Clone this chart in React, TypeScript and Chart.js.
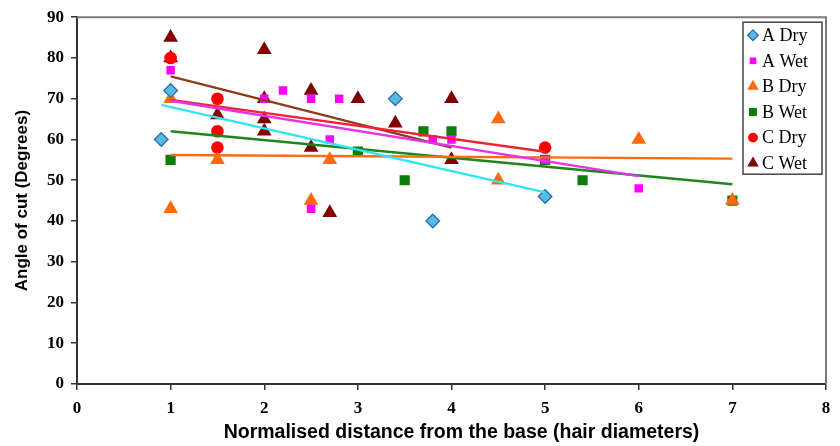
import React, { useEffect, useRef } from 'react';
import { Chart, registerables } from 'chart.js';
import { drawPoint } from 'chart.js/helpers';

Chart.register(...registerables);

// ---- data ----
const seriesNames = ['A Dry', 'A Wet', 'B Dry', 'B Wet', 'C Dry', 'C Wet'];

const aDryX = [0.9, 1, 3.4, 3.8, 5];
const aDryY = [60, 72, 70, 40, 46];

const aWetX = [1, 2, 2.2, 2.5, 2.8, 2.7, 3.8, 4, 5, 6, 2.5];
const aWetY = [77, 70, 72, 70, 70, 60, 60, 60, 55, 48, 43];

const bDryX = [1, 1, 1.5, 2.5, 2.7, 4.5, 4.5, 6, 7];
const bDryY = [70, 43, 55, 45, 55, 65, 50, 60, 45];

const bWetX = [1, 3, 3.5, 3.7, 4, 5, 5.4, 7];
const bWetY = [55, 57, 50, 62, 62, 55, 50, 45];

const cDryX = [1, 1.5, 1.5, 1.5, 5];
const cDryY = [80, 70, 62, 58, 58];

const cWetX = [1, 1, 1.5, 2, 2, 2, 2, 2.5, 2.5, 2.7, 3, 3.4, 4, 4];
const cWetY = [85, 80, 66, 82, 70, 65, 62, 72, 58, 42, 70, 64, 70, 55];

// trend line end points (start x, end x) and (start y, end y)
const aDryTrendX = [0.9, 5];
const aDryTrendY = [68.5, 47];
const aWetTrendX = [1, 6];
const aWetTrendY = [69.5, 51];
const bDryTrendX = [1, 7];
const bDryTrendY = [56.2, 55.3];
const bWetTrendX = [1, 7];
const bWetTrendY = [62, 49];
const cDryTrendX = [1, 5];
const cDryTrendY = [69.7, 57];
const cWetTrendX = [1, 4];
const cWetTrendY = [75.5, 58];

const xTicks = [0, 1, 2, 3, 4, 5, 6, 7, 8];
const yTicks = [0, 10, 20, 30, 40, 50, 60, 70, 80, 90];

const xTitle = 'Normalised distance from the base (hair diameters)';
const yTitle = 'Angle of cut (Degrees)';

// ---- styles ----
const markerStyles = [
  { pointStyle: 'rectRot', radius: 6.8, bg: '#56BBE6', border: '#2C6EA8', bw: 1.3 },
  { pointStyle: 'rect', radius: 6, bg: '#FF00FF', border: '#FF00FF', bw: 0 },
  { pointStyle: 'triangle', radius: 8.5, bg: '#FF6A10', border: '#FF6A10', bw: 0 },
  { pointStyle: 'rect', radius: 7.2, bg: '#0A7D0A', border: '#0A7D0A', bw: 0 },
  { pointStyle: 'circle', radius: 6.3, bg: '#FF0000', border: '#FF0000', bw: 0 },
  { pointStyle: 'triangle', radius: 8.5, bg: '#800000', border: '#800000', bw: 0 },
];
const trendColors = ['#2FE6F2', '#E633E6', '#FF6A10', '#1E861E', '#F2203A', '#8E3A1C'];

const zip = (xs: number[], ys: number[]) => xs.map((x, i) => ({ x, y: ys[i] }));

const scatterData = [
  zip(aDryX, aDryY),
  zip(aWetX, aWetY),
  zip(bDryX, bDryY),
  zip(bWetX, bWetY),
  zip(cDryX, cDryY),
  zip(cWetX, cWetY),
];
const trendData = [
  zip(aDryTrendX, aDryTrendY),
  zip(aWetTrendX, aWetTrendY),
  zip(bDryTrendX, bDryTrendY),
  zip(bWetTrendX, bWetTrendY),
  zip(cDryTrendX, cDryTrendY),
  zip(cWetTrendX, cWetTrendY),
];

const framePlugin = {
  id: 'frame',
  beforeDatasetsDraw(chart: any) {
    const { ctx, chartArea } = chart;
    const { left, top, right, bottom } = chartArea;
    ctx.save();
    ctx.strokeStyle = '#7A7A7A';
    ctx.lineWidth = 2;
    ctx.beginPath();
    ctx.moveTo(left, top);
    ctx.lineTo(right, top);
    ctx.lineTo(right, bottom);
    ctx.stroke();
    ctx.restore();
  },
};

const xTitlePlugin = {
  id: 'xTitle',
  afterDraw(chart: any) {
    const { ctx, chartArea } = chart;
    ctx.save();
    ctx.font = 'bold 19.5px "Liberation Sans", Arial, sans-serif';
    ctx.fillStyle = '#000';
    ctx.textAlign = 'center';
    ctx.textBaseline = 'middle';
    ctx.fillText(xTitle, (chartArea.left + chartArea.right) / 2 + 10, chart.height - 13);
    ctx.restore();
  },
};

const legendPlugin = {
  id: 'customLegend',
  afterDraw(chart: any) {
    const { ctx, chartArea } = chart;
    const w = 79;
    const h = 152;
    const x0 = chartArea.right - 83;
    const y0 = chartArea.top + 5;
    ctx.save();
    ctx.fillStyle = '#FFFFFF';
    ctx.fillRect(x0, y0, w, h);
    ctx.strokeStyle = '#444444';
    ctx.lineWidth = 1.5;
    ctx.strokeRect(x0, y0, w, h);
    ctx.font = '18px "Liberation Serif", "Times New Roman", serif';
    ctx.textBaseline = 'middle';
    ctx.textAlign = 'left';
    seriesNames.forEach((name, i) => {
      const cy = y0 + 13 + i * 25.6;
      const m = markerStyles[i];
      ctx.fillStyle = m.bg;
      ctx.strokeStyle = m.border;
      ctx.lineWidth = m.bw;
      drawPoint(ctx, { pointStyle: m.pointStyle, radius: m.radius * 0.78, borderWidth: m.bw, rotation: 0 }, x0 + 10, cy);
      ctx.fillStyle = '#000000';
      ctx.fillText(name, x0 + 19, cy + 1);
    });
    ctx.restore();
  },
};

export default function App() {
  const ref = useRef<HTMLCanvasElement | null>(null);

  useEffect(() => {
    if (!ref.current) return;
    const datasets: any[] = [];
    trendData.forEach((d, i) => {
      datasets.push({
        type: 'line',
        label: seriesNames[i] + ' trend',
        data: d,
        borderColor: trendColors[i],
        borderWidth: 2.4,
        pointRadius: 0,
        fill: false,
        order: 1,
      });
    });
    scatterData.forEach((d, i) => {
      const m = markerStyles[i];
      datasets.push({
        type: 'scatter',
        label: seriesNames[i],
        data: d,
        pointStyle: m.pointStyle,
        pointRadius: m.radius,
        pointBackgroundColor: m.bg,
        pointBorderColor: m.border,
        pointBorderWidth: m.bw,
        order: 2,
      });
    });

    const tickFont = { family: '"Liberation Serif", "Times New Roman", serif', weight: 'bold' as const, size: 17 };
    const titleFontFamily = '"Liberation Sans", Arial, sans-serif';

    const chart = new Chart(ref.current, {
      type: 'scatter',
      data: { datasets },
      options: {
        responsive: false,
        animation: false,
        devicePixelRatio: 1,
        layout: { padding: { top: 16, right: 14, left: 0, bottom: 0 } },
        plugins: {
          legend: { display: false },
          tooltip: { enabled: false },
        },
        scales: {
          x: {
            type: 'linear',
            min: 0,
            max: 8,
            afterBuildTicks: (s: any) => {
              s.ticks = xTicks.map((v) => ({ value: v }));
            },
            ticks: { font: tickFont, color: '#000', padding: 8, maxRotation: 0, autoSkip: false },
            grid: { drawOnChartArea: false, tickLength: 6, color: '#333', lineWidth: 1.5 },
            border: { color: '#333', width: 2 },
            title: { display: false },
            afterFit: (s: any) => {
              s.height = 62;
            },
          },
          y: {
            type: 'linear',
            min: 0,
            max: 90,
            afterBuildTicks: (s: any) => {
              s.ticks = yTicks.map((v) => ({ value: v }));
            },
            ticks: { font: tickFont, color: '#000', padding: 7, autoSkip: false },
            grid: { drawOnChartArea: false, tickLength: 6, color: '#333', lineWidth: 1.5 },
            border: { color: '#333', width: 2 },
            title: {
              display: true,
              text: yTitle,
              color: '#000',
              font: { family: titleFontFamily, weight: 'bold', size: 17 },
              padding: { top: 12, bottom: 0 },
            },
            afterFit: (s: any) => {
              s.width = 77;
            },
          },
        },
      },
      plugins: [framePlugin, legendPlugin, xTitlePlugin],
    } as any);
    return () => chart.destroy();
  }, []);

  return (
    <div style={{ position: 'absolute', left: 0, top: 0, width: 840, height: 446, background: '#fff' }}>
      <canvas ref={ref} width={840} height={446} />
    </div>
  );
}
